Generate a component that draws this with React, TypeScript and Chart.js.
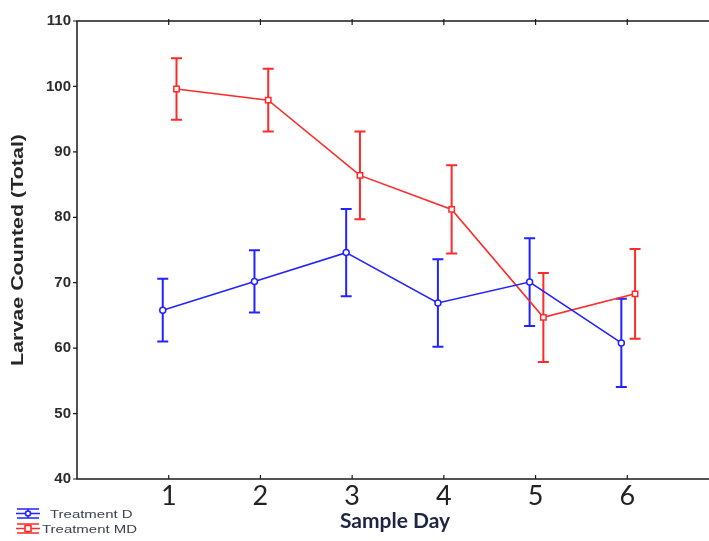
import React, { useEffect, useRef } from "react";
import { Chart, registerables } from "chart.js";

Chart.register(...registerables);

// ---- data ----
const days = [1, 2, 3, 4, 5, 6];
const seriesNames = ["Treatment D", "Treatment MD"];
const dMeans = [65.8, 70.2, 74.6, 66.9, 70.1, 60.8];
const dErr = [4.8, 4.75, 6.65, 6.7, 6.7, 6.75];
const mdMeans = [99.6, 97.9, 86.4, 81.2, 64.7, 68.3];
const mdErr = [4.7, 4.8, 6.7, 6.75, 6.8, 6.85];
const yTicks = [40, 50, 60, 70, 80, 90, 100, 110];
const xTitle = "Sample Day";
const yTitle = "Larvae Counted (Total)";

// ---- styles ----
const BLUE = "#2323ff";
const RED = "#ff2a2a";
const DODGE = [-0.065, 0.085];
const CANVAS_W = 730;
const CANVAS_H = 541;

const means = [dMeans, mdMeans];
const errs = [dErr, mdErr];
const colors = [BLUE, RED];

const errorBarPlugin = {
  id: "errorBars",
  beforeDatasetsDraw(chart: any) {
    const ctx = chart.ctx;
    const ys = chart.scales.y;
    ctx.save();
    means.forEach((m, i) => {
      const meta = chart.getDatasetMeta(i);
      ctx.strokeStyle = colors[i];
      ctx.lineWidth = 2;
      m.forEach((v, j) => {
        const x = meta.data[j].x;
        const yt = ys.getPixelForValue(v + errs[i][j]);
        const yb = ys.getPixelForValue(v - errs[i][j]);
        ctx.beginPath();
        ctx.moveTo(x, yt);
        ctx.lineTo(x, yb);
        ctx.moveTo(x - 5.5, yt);
        ctx.lineTo(x + 5.5, yt);
        ctx.moveTo(x - 5.5, yb);
        ctx.lineTo(x + 5.5, yb);
        ctx.stroke();
      });
    });
    ctx.restore();
  },
};

const framePlugin = {
  id: "frame",
  afterDraw(chart: any) {
    const ctx = chart.ctx;
    const { left, right, top, bottom } = chart.chartArea;
    const xs = chart.scales.x;
    const ys = chart.scales.y;
    ctx.save();
    ctx.strokeStyle = "#1a1a1a";
    ctx.lineWidth = 1.5;
    ctx.strokeRect(left, top, right - left, bottom - top);
    ctx.lineWidth = 1.2;
    ctx.beginPath();
    days.forEach((d) => {
      const x = xs.getPixelForValue(d);
      ctx.moveTo(x, bottom);
      ctx.lineTo(x, bottom - 4);
      ctx.moveTo(x, top - 2);
      ctx.lineTo(x, top + 4);
    });
    yTicks.forEach((v) => {
      const y = ys.getPixelForValue(v);
      ctx.moveTo(left - 4, y);
      ctx.lineTo(left, y);
    });
    ctx.stroke();

    // x title
    ctx.fillStyle = "#1c2541";
    ctx.font = "bold 21px Lato";
    ctx.textAlign = "center";
    ctx.textBaseline = "middle";
    ctx.fillText(xTitle, 395, 521);

    // y title (stretched along its length)
    ctx.save();
    ctx.font = "bold 16px 'Liberation Sans'";
    const w = ctx.measureText(yTitle).width;
    const sc = 232 / w;
    ctx.translate(19, (top + bottom) / 2);
    ctx.rotate(-Math.PI / 2);
    ctx.scale(sc, 1);
    ctx.fillStyle = "#262626";
    ctx.fillText(yTitle, 0, 0);
    ctx.restore();

    // legend
    const legendY = [513.5, 528.5];
    const textX = [50, 42];
    seriesNames.forEach((name, i) => {
      const y = legendY[i];
      const c = colors[i];
      ctx.strokeStyle = c;
      ctx.lineWidth = 1.6;
      ctx.beginPath();
      ctx.moveTo(16, y);
      ctx.lineTo(40, y);
      ctx.moveTo(17, y - 4.5);
      ctx.lineTo(39, y - 4.5);
      ctx.moveTo(17, y + 4.5);
      ctx.lineTo(39, y + 4.5);
      ctx.moveTo(28, y - 4.5);
      ctx.lineTo(28, y + 4.5);
      ctx.stroke();
      ctx.fillStyle = "#fff";
      ctx.beginPath();
      if (i === 0) {
        ctx.arc(28, y, 2.5, 0, Math.PI * 2);
      } else {
        ctx.rect(25, y - 3, 6, 6);
      }
      ctx.fill();
      ctx.stroke();

      ctx.save();
      ctx.font = "11px 'Liberation Sans'";
      ctx.textAlign = "left";
      ctx.textBaseline = "middle";
      ctx.fillStyle = "#3b3f4f";
      ctx.translate(textX[i], y + 1);
      ctx.scale(1.36, 1);
      ctx.fillText(name, 0, 0);
      ctx.restore();
    });
    ctx.restore();
  },
};

export default function App() {
  const ref = useRef<HTMLCanvasElement | null>(null);

  useEffect(() => {
    if (!ref.current) return;
    const chart = new Chart(ref.current, {
      type: "line",
      data: {
        datasets: means.map((m, i) => ({
          label: seriesNames[i],
          data: days.map((d, j) => ({ x: d + DODGE[i], y: m[j] })),
          borderColor: colors[i],
          borderWidth: 1.6,
          pointStyle: i === 0 ? "circle" : "rect",
          pointRadius: i === 0 ? 3 : 3.8,
          pointBorderWidth: 1.5,
          pointBackgroundColor: "#ffffff",
          pointBorderColor: colors[i],
          tension: 0,
          fill: false,
        })),
      },
      options: {
        responsive: false,
        animation: false,
        devicePixelRatio: 1,
        layout: { padding: { top: 21, right: 11, left: 0, bottom: 0 } },
        plugins: {
          legend: { display: false },
          tooltip: { enabled: false },
        },
        scales: {
          x: {
            type: "linear",
            min: 0,
            max: 7,
            grid: { display: false, drawTicks: false },
            border: { display: false },
            afterBuildTicks: (s: any) => {
              s.ticks = days.map((v) => ({ value: v }));
            },
            ticks: {
              autoSkip: false,
              maxRotation: 0,
              padding: 1,
              color: "#222",
              font: { family: "Lato", size: 27 },
              callback: (v: any) => String(v),
            },
            afterFit: (s: any) => {
              s.height = 62;
            },
          },
          y: {
            min: 40,
            max: 110,
            grid: { display: false, drawTicks: false },
            border: { display: false },
            afterBuildTicks: (s: any) => {
              s.ticks = yTicks.map((v) => ({ value: v }));
            },
            ticks: {
              padding: 6,
              color: "#2b2b2b",
              font: { family: "'Liberation Sans'", size: 15, weight: "bold" },
            },
            afterFit: (s: any) => {
              s.width = 77;
            },
          },
        },
      } as any,
      plugins: [errorBarPlugin, framePlugin],
    });
    return () => chart.destroy();
  }, []);

  return (
    <div
      style={{
        position: "fixed",
        left: 0,
        top: 0,
        width: 709,
        height: 541,
        overflow: "hidden",
        background: "#fff",
      }}
    >
      <canvas ref={ref} width={CANVAS_W} height={CANVAS_H} style={{ display: "block" }} />
    </div>
  );
}
